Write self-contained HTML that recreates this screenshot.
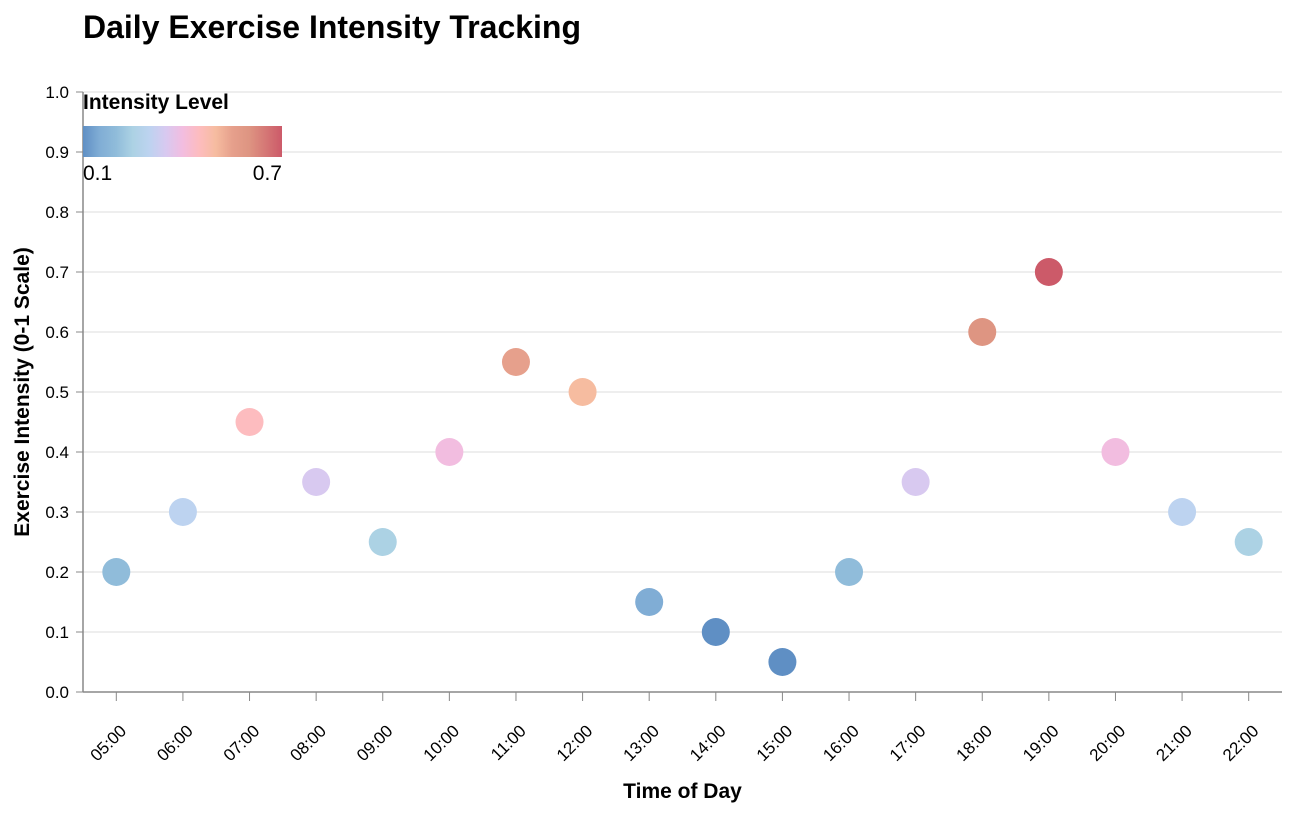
<!DOCTYPE html>
<html><head><meta charset="utf-8"><style>
body{margin:0;background:#fff;font-family:"Liberation Sans",Arial,sans-serif}
svg text{font-family:"Liberation Sans",Arial,sans-serif}
</style></head><body>
<svg id="chart" width="1292" height="812">
<defs><linearGradient id="grad" x1="0" x2="1" y1="0" y2="0"></linearGradient></defs>
<text x="83" y="38" font-size="32" font-weight="bold" fill="#000">Daily Exercise Intensity Tracking</text>
<g id="grid"></g><g id="axes"></g><g id="marks"></g><g id="legend"></g>
</svg>
<script>
const categories=["05:00","06:00","07:00","08:00","09:00","10:00","11:00","12:00","13:00","14:00","15:00","16:00","17:00","18:00","19:00","20:00","21:00","22:00"];
const intensity=[0.2,0.3,0.45,0.35,0.25,0.4,0.55,0.5,0.15,0.1,0.05,0.2,0.35,0.6,0.7,0.4,0.3,0.25];
const yTicks=[0,0.1,0.2,0.3,0.4,0.5,0.6,0.7,0.8,0.9,1.0];
const colorDomain=[0.1,0.7];
const stopValues=[0.1,0.15,0.2,0.25,0.3,0.35,0.4,0.45,0.5,0.55,0.6,0.7];
const stopColors=["#5f8fc4","#80add5","#90bcda","#acd2e4","#bdd3f0","#d8c9f0","#f2bde0","#fdbcbf","#f6bca0","#e6a08c","#de9582","#cc5a69"];
const NS="http://www.w3.org/2000/svg";
const L=83,R=1282,T=92,B=692;
const band=(R-L)/categories.length;
const x=i=>L+band*(i+0.5);
const y=v=>B-(B-T)*v;
function hex(h){return [1,3,5].map(i=>parseInt(h.substr(i,2),16));}
function color(v){
 if(v<=stopValues[0])return stopColors[0];
 for(let k=0;k<stopValues.length-1;k++){
  if(v<=stopValues[k+1]){const f=(v-stopValues[k])/(stopValues[k+1]-stopValues[k]);
   const a=hex(stopColors[k]),b=hex(stopColors[k+1]);
   return "rgb("+a.map((c,i)=>Math.round(c+(b[i]-c)*f)).join(",")+")";}
 }
 return stopColors[stopColors.length-1];}
function mk(tag,attrs,parent){const e=document.createElementNS(NS,tag);for(const k in attrs)e.setAttribute(k,attrs[k]);parent.appendChild(e);return e;}
const grid=document.getElementById("grid"),axes=document.getElementById("axes"),marks=document.getElementById("marks"),legend=document.getElementById("legend");
yTicks.forEach(v=>{
 const g=mk("line",{x1:L,x2:R,y1:y(v),y2:y(v),stroke:"#ddd","stroke-width":1},grid);
 
 
 mk("line",{x1:L-7,x2:L,y1:y(v),y2:y(v),stroke:"#888"},axes);
 const t=mk("text",{x:L-14,y:y(v)+6,"text-anchor":"end","font-size":17,fill:"#000"},axes);
 t.textContent=v.toFixed(1);
 
 
});
mk("line",{x1:L,x2:L,y1:T,y2:B,stroke:"#888","stroke-width":1.5},axes);
mk("line",{x1:L,x2:R,y1:B,y2:B,stroke:"#888","stroke-width":1.5},axes);
categories.forEach((c,i)=>{
 mk("line",{x1:x(i),x2:x(i),y1:B,y2:B+9,stroke:"#888"},axes);
 const ax=x(i)+11, ay=B+40;
 const t=mk("text",{x:ax,y:ay,"text-anchor":"end","font-size":17,fill:"#000",transform:`rotate(-45 ${ax} ${ay})`},axes);
 t.textContent=c;
 
 
});
const xt=mk("text",{x:(L+R)/2,y:798,"text-anchor":"middle","font-size":21,"font-weight":"bold"},axes);
xt.textContent="Time of Day";


const yt=mk("text",{x:0,y:0,"text-anchor":"middle","font-size":21,"font-weight":"bold",transform:`translate(29 ${(T+B)/2}) rotate(-90)`},axes);
yt.textContent="Exercise Intensity (0-1 Scale)";


intensity.forEach((v,i)=>{
 const c=mk("circle",{cx:x(i),cy:y(v),r:14,fill:color(v)},marks);
 
 
});
const gr=document.getElementById("grad");
stopValues.forEach((s,i)=>mk("stop",{offset:(s-colorDomain[0])/(colorDomain[1]-colorDomain[0]),"stop-color":stopColors[i]},gr));
const lt=mk("text",{x:83,y:109,"font-size":21,"font-weight":"bold"},legend);
lt.textContent="Intensity Level";


const lr=mk("rect",{x:83,y:126,width:199,height:31,fill:"url(#grad)"},legend);


[[83,"start",colorDomain[0]],[282,"end",colorDomain[1]]].forEach(([px,a,v])=>{
 const t=mk("text",{x:px,y:180,"text-anchor":a,"font-size":21},legend);
 t.textContent=String(v);
 
 
});
</script>
</body></html>
